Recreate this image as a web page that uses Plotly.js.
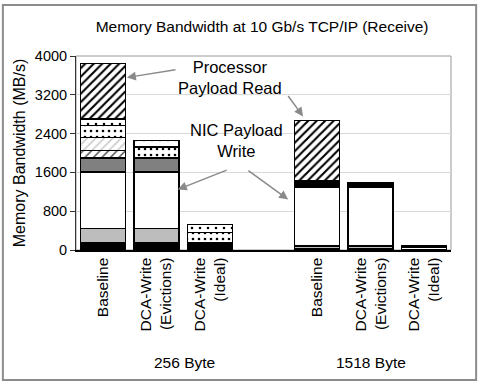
<!DOCTYPE html>
<html>
<head>
<meta charset="utf-8">
<script src="https://cdn.plot.ly/plotly-3.0.1.min.js"></script>
<style>html,body{margin:0;padding:0;background:#fff}#chart{width:480px;height:385px}</style>
</head>
<body>
<div id="chart"></div>
<script>
// ---- data ----
const groups = ['256 Byte', '1518 Byte'];
const configs = ['Baseline', 'DCA-Write<br>(Evictions)', 'DCA-Write<br>(Ideal)'];
// stacked components, bottom to top, order: 256 Baseline, Evictions, Ideal, 1518 Baseline, Evictions, Ideal
const solidBlack   = [150, 150, 150, 30, 30, 10];
const solidLight   = [290, 290, null, 50, 50, null];
const solidWhite   = [1168, 1168, null, 1220, 1220, null];
const solidDark    = [289, 289, null, 40, 40, null];
const hatchMedium  = [161, null, null, 15, null, null];
const hatchLight   = [256, null, null, 20, null, null];
const dotsDense    = [254, 227, 210, 25, 25, 40];
const dotsSparse   = [134, 136, 171, 20, 25, 35];
const hatchHeavy   = [1144, null, null, 1255, null, null];

// x positions: one empty slot between the groups
const xPos = [];
const tickText = [];
groups.forEach((g, gi) => configs.forEach((c, ci) => { xPos.push(gi * 4 + ci); tickText.push(c); }));

const line = {color: '#000', width: 1.3};
function bar(vals, color, pattern) {
  const m = {color: color, line: line};
  if (pattern) m.pattern = pattern;
  return {type: 'bar', x: xPos, y: vals, marker: m, width: 0.84, hoverinfo: 'skip', showlegend: false};
}
const traces = [
  bar(solidBlack, '#000000'),
  bar(solidLight, '#bdbdbd'),
  bar(solidWhite, '#ffffff'),
  bar(solidDark, '#808080'),
  bar(hatchMedium, '#ffffff', {shape: '/', fgcolor: '#555', bgcolor: '#fff', size: 6, solidity: 0.25}),
  bar(hatchLight, '#ffffff', {shape: '/', fgcolor: '#c8c8c8', bgcolor: '#fff', size: 6, solidity: 0.25}),
  bar(dotsDense, '#ffffff', {shape: '.', fgcolor: '#000', bgcolor: '#fff', size: 6, solidity: 0.15}),
  bar(dotsSparse, '#ffffff', {shape: '.', fgcolor: '#000', bgcolor: '#fff', size: 8, solidity: 0.08}),
  bar(hatchHeavy, '#ffffff', {shape: '/', fgcolor: '#000', bgcolor: '#fff', size: 6, solidity: 0.35})
];

const font = "'Liberation Sans', Arial, sans-serif";
const arrow = (x, y, ax, ay) => ({x: x, y: y, ax: ax, ay: ay, xref: 'x', yref: 'y', axref: 'x', ayref: 'y',
  text: '', showarrow: true, arrowhead: 2, arrowsize: 1.2, arrowwidth: 1.5, arrowcolor: '#8a8a8a'});

const layout = {
  width: 480, height: 385,
  margin: {l: 76, r: 29, t: 56, b: 135},
  paper_bgcolor: '#fff', plot_bgcolor: '#fff',
  barmode: 'stack',
  font: {family: font, color: '#000', size: 14},
  title: {text: 'Memory Bandwidth at 10 Gb/s TCP/IP (Receive)', x: 0.546, xanchor: 'center',
          y: 0.932, yanchor: 'middle', font: {size: 15.5, family: font, color: '#000'}},
  xaxis: {range: [-0.5, 6.5], tickvals: xPos, ticktext: tickText, tickangle: -90,
          showline: true, linecolor: '#000', linewidth: 1.5, ticks: '', showgrid: false, zeroline: false,
          tickfont: {size: 15.5, family: font, color: '#000'}, fixedrange: true},
  yaxis: {range: [0, 4000], dtick: 800, tick0: 0, showline: true, linecolor: '#333', linewidth: 1,
          ticks: 'outside', ticklen: 5, tickcolor: '#333', gridcolor: '#d9d9d9', gridwidth: 1,
          zeroline: false, tickfont: {size: 14.5, family: font, color: '#000'},
          title: {text: 'Memory Bandwidth (MB/s)', standoff: 5, font: {size: 16, family: font, color: '#000'}}},
  shapes: [
    {type: 'rect', xref: 'paper', yref: 'paper', x0: 0, x1: 1, y0: 0, y1: 1,
     line: {color: '#9a9a9a', width: 1}, layer: 'below'},
    {type: 'rect', xref: 'paper', yref: 'paper', x0: -0.195, x1: 1.067, y0: -0.670, y1: 1.263,
     line: {color: '#8c8c8c', width: 2}}
  ],
  annotations: [
    {x: 1.53, y: -0.582, xref: 'x', yref: 'paper', text: groups[0], showarrow: false,
     xanchor: 'center', yanchor: 'middle', font: {size: 15.5}},
    {x: 5.0, y: -0.582, xref: 'x', yref: 'paper', text: groups[1], showarrow: false,
     xanchor: 'center', yanchor: 'middle', font: {size: 15.5}},
    {x: 2.37, y: 3567, xref: 'x', yref: 'y', text: 'Processor<br>Payload Read', showarrow: false,
     xanchor: 'center', yanchor: 'middle', font: {size: 16.5}},
    {x: 2.49, y: 2248, xref: 'x', yref: 'y', text: 'NIC Payload<br>Write', showarrow: false,
     xanchor: 'center', yanchor: 'middle', font: {size: 16.5}},
    arrow(0.45, 3557, 1.385, 3722),
    arrow(3.74, 2753, 3.44, 3206),
    arrow(1.40, 1247, 2.34, 1660),
    arrow(3.46, 1041, 2.69, 1660)
  ]
};

Plotly.newPlot('chart', traces, layout, {displayModeBar: false, staticPlot: true});
</script>
</body>
</html>
